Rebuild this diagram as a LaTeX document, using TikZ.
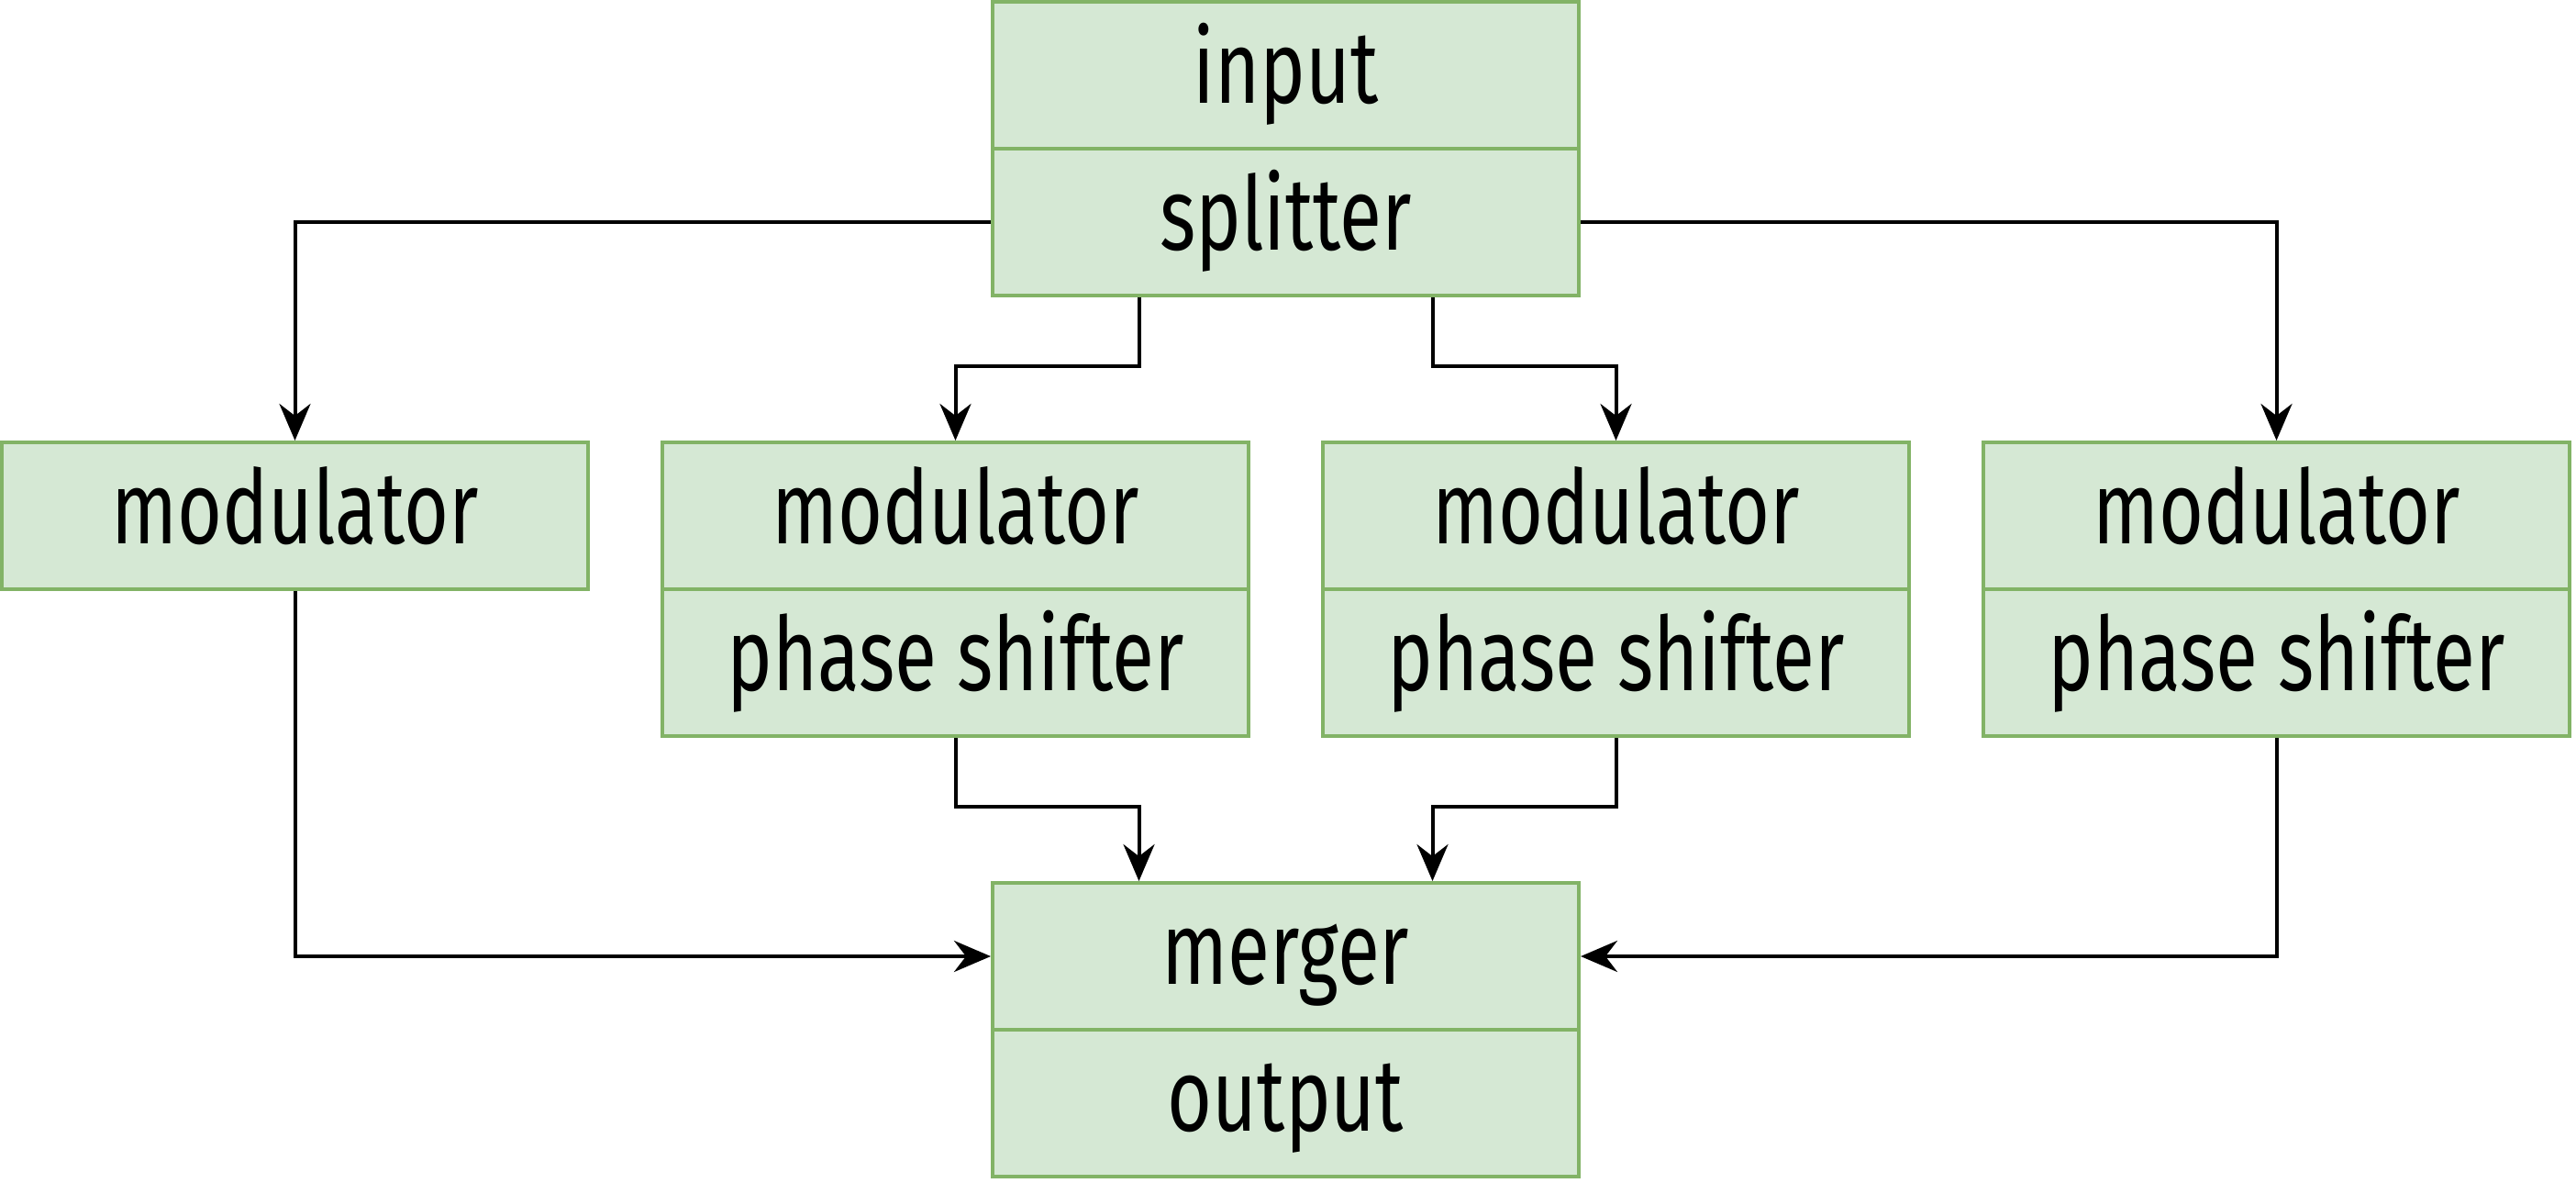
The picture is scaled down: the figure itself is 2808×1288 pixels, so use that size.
\documentclass[tikz,border=0pt]{standalone}
\usepackage{fontspec}
\setmainfont{Fira Sans}[FakeStretch=0.75]
\usetikzlibrary{arrows.meta}
\definecolor{boxfill}{HTML}{D5E8D4}
\definecolor{boxline}{HTML}{82B366}
\begin{document}
\begin{tikzpicture}[x=1pt,y=-1pt,
  cell/.style={draw=boxline,fill=boxfill,line width=4pt,minimum width=639pt,minimum height=160pt,inner sep=0pt,
    font=\fontsize{112}{128}\selectfont,text height=90pt,text depth=30pt},
  arr/.style={draw=black,line width=4pt,-{Stealth[length=40pt,width=34pt,inset=13pt]}}]
\useasboundingbox (0,0) rectangle (2808,1288);
\node[cell] (inp) at (1401.5,82) {input};
\node[cell] (split) at (1401.5,242) {splitter};
\node[cell] (Am) at (321.5,562) {modulator};
\node[cell] (Bm) at (1041.5,562) {modulator};
\node[cell] (Bp) at (1041.5,722) {phase shifter};
\node[cell] (Cm) at (1761.5,562) {modulator};
\node[cell] (Cp) at (1761.5,722) {phase shifter};
\node[cell] (Dm) at (2481.5,562) {modulator};
\node[cell] (Dp) at (2481.5,722) {phase shifter};
\node[cell] (merg) at (1401.5,1042) {merger};
\node[cell] (outp) at (1401.5,1202) {output};
\draw[arr] (split.west) -| (Am.north);
\draw[arr] (split.east) -| (Dm.north);
\draw[arr] ([xshift=-160pt]split.south) |- ([yshift=81pt]Bm.north) -- (Bm.north);
\draw[arr] ([xshift=160pt]split.south) |- ([yshift=81pt]Cm.north) -- (Cm.north);
\draw[arr] (Am.south) |- (merg.west);
\draw[arr] (Dp.south) |- (merg.east);
\draw[arr] (Bp.south) |- ([xshift=-160pt,yshift=81pt]merg.north) -- ([xshift=-160pt]merg.north);
\draw[arr] (Cp.south) |- ([xshift=160pt,yshift=81pt]merg.north) -- ([xshift=160pt]merg.north);
\end{tikzpicture}
\end{document}
